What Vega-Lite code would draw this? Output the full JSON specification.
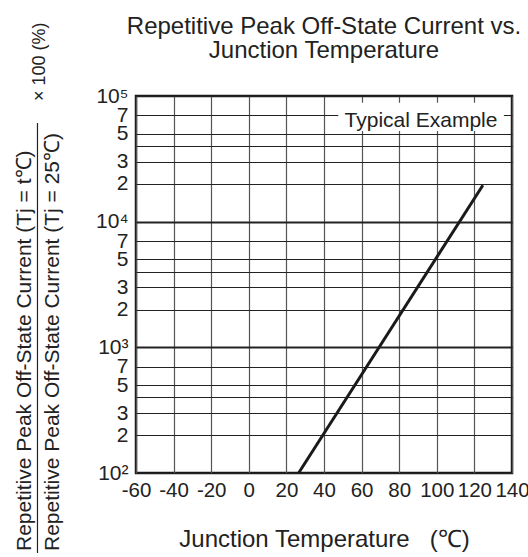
{
  "$schema": "https://vega.github.io/schema/vega-lite/v6.json",
  "width": 376,
  "height": 377,
  "autosize": {"type": "none"},
  "padding": {"left": 136, "top": 96, "right": 16, "bottom": 84},
  "background": "white",
  "config": {
    "font": "Liberation Sans",
    "view": {"stroke": "#1a1a1a", "strokeWidth": 2.5},
    "axis": {"domain": false, "ticks": false, "labelColor": "#222", "titleColor": "#222", "labelOverlap": false, "labelFlush": false, "labelBound": false}
  },
  "title": {
    "text": ["Repetitive Peak Off-State Current vs.", "Junction Temperature"],
    "fontSize": 24,
    "fontWeight": "normal",
    "color": "#222",
    "anchor": "middle",
    "frame": "group",
    "lineHeight": 24.5,
    "offset": -41
  },
  "data": {"values": [{"temp": 26.5, "ratio": 100}, {"temp": 124.5, "ratio": 19500}]},
  "layer": [
    {
      "mark": {"type": "line", "color": "#1a1a1a", "strokeWidth": 3},
      "encoding": {
        "x": {
          "field": "temp", "type": "quantitative",
          "scale": {"domain": [-60, 140], "nice": false, "zero": false},
          "axis": {
            "values": [-60, -40, -20, 0, 20, 40, 60, 80, 100, 120, 140],
            "tickCount": 30,
            "labelExpr": "datum.value < 0 ? '-' + (-datum.value) : '' + datum.value",
            "labelFontSize": 20.5, "labelPadding": 7, "labelDx": -2,
            "grid": true, "gridColor": "#555", "gridWidth": 1.2,
            "title": "Junction Temperature \u00a0\u00a0(℃)",
            "titleFontSize": 24, "titleFontWeight": "normal", "titlePadding": 27
          }
        },
        "y": {
          "field": "ratio", "type": "quantitative",
          "scale": {"type": "log", "domain": [100, 100000], "nice": false},
          "axis": {
            "values": [100, 200, 300, 400, 500, 700, 1000, 2000, 3000, 4000, 5000, 7000, 10000, 20000, 30000, 40000, 50000, 70000, 100000],
            "tickCount": 40,
            "labelExpr": "datum.value == 100 ? '10²' : datum.value == 1000 ? '10³' : datum.value == 10000 ? '10⁴' : datum.value == 100000 ? '10⁵' : (datum.value == 400 || datum.value == 4000 || datum.value == 40000) ? '' : substring(format(datum.value, 'd'), 0, 1)",
            "labelFontSize": 21, "labelPadding": 8, "labelBaseline": "middle",
            "grid": true, "gridColor": "#222",
            "gridWidth": {"condition": {"test": "datum.value == 1000 || datum.value == 10000", "value": 2.2}, "value": 1},
            "title": null
          }
        }
      }
    },
    {
      "data": {"values": [{"label": "Typical Example"}]},
      "mark": {"type": "rect", "fill": "white", "stroke": null},
      "encoding": {
        "x": {"datum": 47.6, "type": "quantitative"},
        "x2": {"datum": 135.7},
        "y": {"datum": 52640, "type": "quantitative"},
        "y2": {"datum": 88460}
      }
    },
    {
      "data": {"values": [{"label": "Typical Example"}]},
      "mark": {"type": "text", "fontSize": 21, "color": "#222", "align": "center", "baseline": "alphabetic"},
      "encoding": {
        "x": {"datum": 91.6, "type": "quantitative"},
        "y": {"datum": 56950, "type": "quantitative"},
        "text": {"field": "label"}
      }
    },
    {
      "data": {"values": [{"label": "Repetitive Peak Off-State Current (Tj = t℃)"}]},
      "mark": {"type": "text", "fontSize": 21, "color": "#222", "angle": 270, "align": "left", "baseline": "alphabetic"},
      "encoding": {
        "x": {"datum": -115.85, "type": "quantitative"},
        "y": {"datum": 23.95, "type": "quantitative"},
        "text": {"field": "label"}
      }
    },
    {
      "data": {"values": [{"label": "Repetitive Peak Off-State Current (Tj = 25℃)"}]},
      "mark": {"type": "text", "fontSize": 21, "color": "#222", "angle": 270, "align": "left", "baseline": "alphabetic"},
      "encoding": {
        "x": {"datum": -100.7, "type": "quantitative"},
        "y": {"datum": 23.95, "type": "quantitative"},
        "text": {"field": "label"}
      }
    },
    {
      "data": {"values": [{"label": "× 100 (%)"}]},
      "mark": {"type": "text", "fontSize": 18, "color": "#222", "angle": 270, "align": "left", "baseline": "alphabetic"},
      "encoding": {
        "x": {"datum": -108.4, "type": "quantitative"},
        "y": {"datum": 91200, "type": "quantitative"},
        "text": {"field": "label"}
      }
    },
    {
      "data": {"values": [{"label": "bar"}]},
      "mark": {"type": "rule", "color": "#222", "strokeWidth": 1.2},
      "encoding": {
        "x": {"datum": -112.4, "type": "quantitative"},
        "y": {"datum": 23.08, "type": "quantitative"},
        "y2": {"datum": 60950}
      }
    }
  ]
}
